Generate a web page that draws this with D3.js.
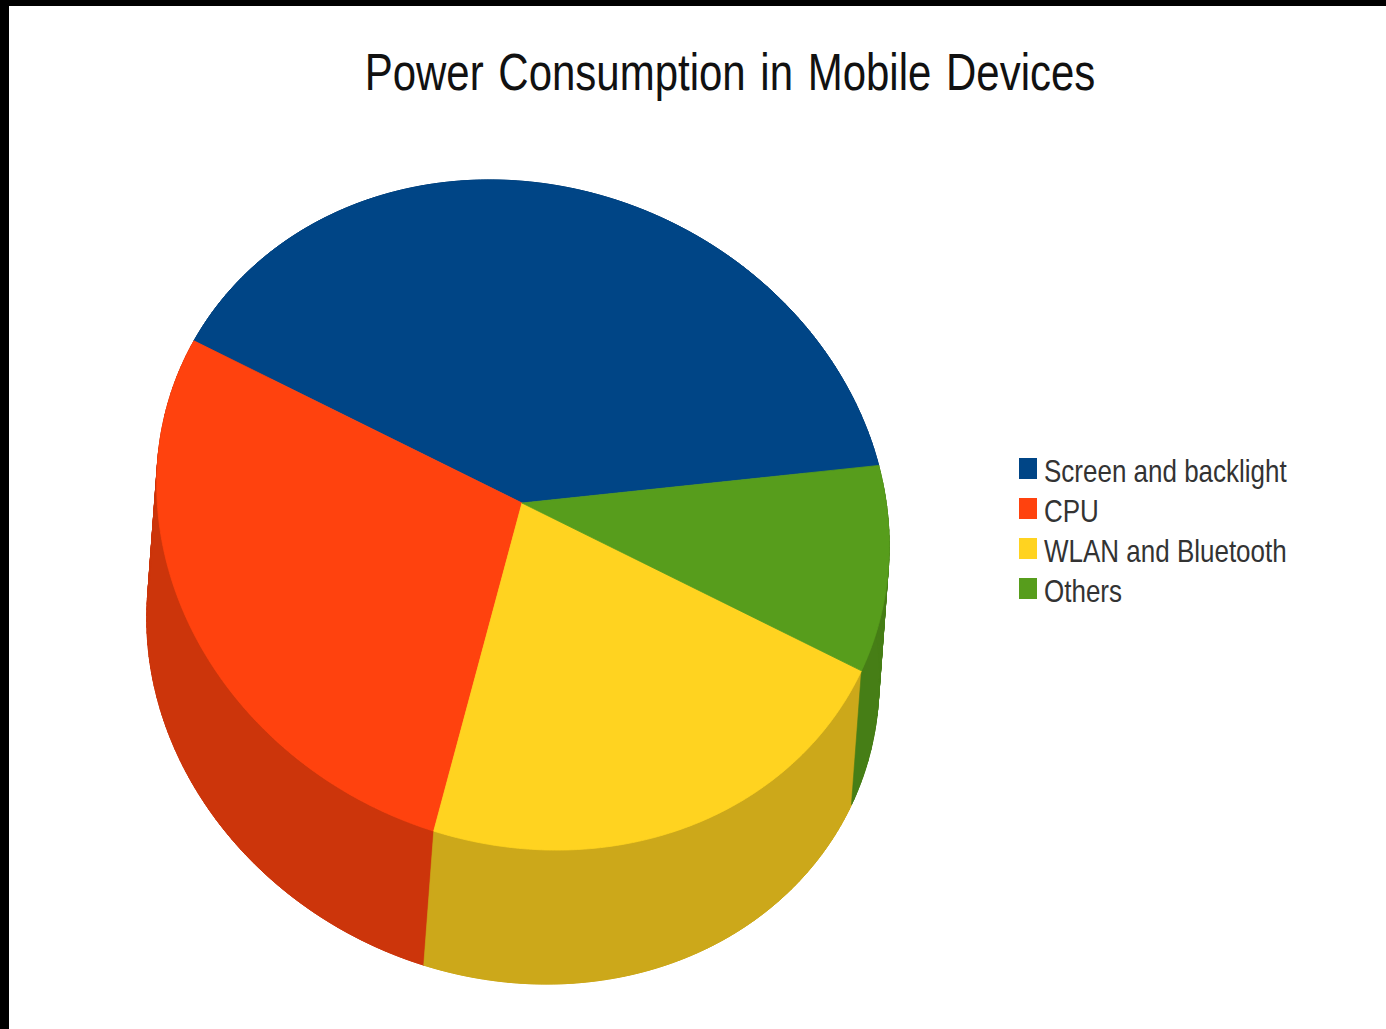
<!DOCTYPE html>
<html>
<head>
<meta charset="utf-8">
<script src="https://cdn.jsdelivr.net/npm/d3@7/dist/d3.min.js"></script>
<style>
  html, body { margin: 0; padding: 0; background: #fff; }
  svg { display: block; }
</style>
</head>
<body>
<svg id="chart" width="1386" height="1029"></svg>
<script>
// ---- data ----
const title = "Power Consumption in Mobile Devices";
const categories = ["Screen and backlight", "CPU", "WLAN and Bluetooth", "Others"];
const values = [40, 28, 22, 10];
const topColors = ["#004586", "#ff420e", "#ffd320", "#579d1c"];
const sideColors = ["#003a70", "#cc350b", "#cca81a", "#467e16"];

// ---- layout ----
const W = 1386, H = 1029;
const svg = d3.select("#chart");
svg.append("rect").attr("width", W).attr("height", H).attr("fill", "#fff");
// black frame strips of the original picture
svg.append("rect").attr("x", 0).attr("y", 0).attr("width", W).attr("height", 6).attr("fill", "#000");
svg.append("rect").attr("x", 0).attr("y", 0).attr("width", 9).attr("height", H).attr("fill", "#000");

// perspective projection of a unit disk
const cx = 522, cy = 503;
const A = 365, B = 27, C = 6, D = 334.6, g = -0.0358;
const sx = -10, sy = 134; // extrusion (thickness) offset
function proj(a, h) {
  const u = Math.sin(a), v = -Math.cos(a);
  const w = 1 + g * v;
  return [cx + (A * u + B * v) / w + h * sx, cy + (C * u + D * v) / w + h * sy];
}

const start = 82.5 * Math.PI / 180;
const pie = d3.pie().sort(null).value(d => d).startAngle(start).endAngle(start - 2 * Math.PI);
const arcs = pie(values);

const line = d3.line().curve(d3.curveLinearClosed);
const gPie = svg.append("g");

// side walls: thin quads drawn far-to-near (fills the silhouette)
const quads = [];
const fronts = [];
arcs.forEach((d, i) => {
  const n = Math.max(2, Math.ceil(Math.abs(d.endAngle - d.startAngle) / (Math.PI / 180)));
  const frontPts = [];
  for (let k = 0; k < n; k++) {
    const a0 = d.startAngle + (d.endAngle - d.startAngle) * k / n;
    const a1 = d.startAngle + (d.endAngle - d.startAngle) * (k + 1) / n;
    const depth = -Math.cos((a0 + a1) / 2);
    quads.push({ i, depth, pts: [proj(a0, 0), proj(a1, 0), proj(a1, 1), proj(a0, 1)] });
  }
  // front-facing part of this slice as one seamless polygon
  const m = 4 * n;
  const angs = [];
  for (let k = 0; k <= m; k++) {
    const a = d.startAngle + (d.endAngle - d.startAngle) * k / m;
    if (-Math.cos(a) >= -0.02) angs.push(a);
  }
  if (angs.length > 1) {
    const top = angs.map(a => proj(a, 0));
    const bot = angs.slice().reverse().map(a => proj(a, 1));
    fronts.push({ i, pts: top.concat(bot) });
  }
});
quads.sort((p, q) => p.depth - q.depth);
gPie.selectAll("path.side").data(quads).join("path")
  .attr("class", "side")
  .attr("d", q => line(q.pts))
  .attr("fill", q => sideColors[q.i])
  .attr("stroke", q => sideColors[q.i])
  .attr("stroke-width", 1)
  .attr("stroke-linejoin", "round");
gPie.selectAll("path.front").data(fronts).join("path")
  .attr("class", "front")
  .attr("d", f => line(f.pts))
  .attr("fill", f => sideColors[f.i])
  .attr("stroke", f => sideColors[f.i])
  .attr("stroke-width", 0.6)
  .attr("stroke-linejoin", "round");

// top faces
gPie.selectAll("path.top").data(arcs).join("path")
  .attr("class", "top")
  .attr("d", (d) => {
    const n = Math.max(4, Math.ceil(Math.abs(d.endAngle - d.startAngle) / (Math.PI / 360)));
    const pts = [[cx, cy]];
    for (let k = 0; k <= n; k++) {
      pts.push(proj(d.startAngle + (d.endAngle - d.startAngle) * k / n, 0));
    }
    return line(pts);
  })
  .attr("fill", (d, i) => topColors[i])
  .attr("stroke", (d, i) => topColors[i])
  .attr("stroke-width", 0.8)
  .attr("stroke-linejoin", "round");

// title
svg.append("text")
  .attr("transform", "translate(730,90) scale(1,1.22)")
  .attr("text-anchor", "middle")
  .attr("font-family", "Liberation Sans, Arial, sans-serif")
  .attr("font-size", 42)
  .attr("fill", "#111")
  .attr("word-spacing", 3)
  .text(title);

// legend
const legend = svg.append("g").attr("transform", "translate(1019,482)");
const items = legend.selectAll("g").data(categories).join("g")
  .attr("transform", (d, i) => `translate(0,${i * 40})`);
items.append("rect")
  .attr("x", 0).attr("y", -24).attr("width", 18).attr("height", 21)
  .attr("fill", (d, i) => topColors[i]);
items.append("text")
  .attr("transform", "translate(25,0) scale(1,1.18)")
  .attr("font-family", "Liberation Sans, Arial, sans-serif")
  .attr("font-size", 26)
  .attr("fill", "#333")
  .text(d => d);
</script>
</body>
</html>
